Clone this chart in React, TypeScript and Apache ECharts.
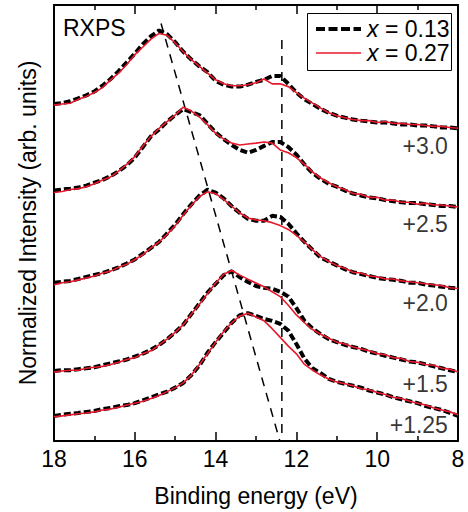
import React, { useEffect, useRef } from "react";
import * as echarts from "echarts";

// Binding energy grid (eV), shared by every spectrum
const energy = [
  18.0, 17.8, 17.6, 17.4, 17.2, 17.0, 16.8, 16.6, 16.4, 16.2,
  16.0, 15.8, 15.6, 15.4, 15.2, 15.0, 14.8, 14.6, 14.4, 14.2,
  14.0, 13.8, 13.6, 13.4, 13.2, 13.0, 12.8, 12.6, 12.4, 12.2,
  12.0, 11.8, 11.6, 11.4, 11.2, 11.0, 10.8, 10.6, 10.4, 10.2,
  10.0, 9.8, 9.6, 9.4, 9.2, 9.0, 8.8, 8.6, 8.4, 8.2, 8.0,
];

// Vertical offsets applied to each pair of spectra (top to bottom)
const offsets = [3.0, 2.5, 2.0, 1.5, 1.25];
const offsetLabels = ["+3.0", "+2.5", "+2.0", "+1.5", "+1.25"];
const offsetLabelY = [2.889, 2.444, 1.989, 1.528, 1.289];
const offsetLabelE = 8.25;

// x = 0.13 normalized intensities
const x013_30 = [0.132,0.137,0.148,0.165,0.182,0.204,0.237,0.276,0.321,0.371,0.421,0.476,0.521,0.554,0.532,0.487,0.432,0.387,0.348,0.315,0.265,0.243,0.232,0.232,0.243,0.259,0.271,0.293,0.293,0.248,0.198,0.159,0.132,0.104,0.082,0.065,0.054,0.043,0.037,0.032,0.026,0.026,0.021,0.015,0.015,0.009,0.009,0.004,-0.002,-0.002,-0.007];
const x013_25 = [0.136,0.142,0.147,0.153,0.164,0.181,0.197,0.219,0.247,0.281,0.325,0.386,0.447,0.486,0.531,0.569,0.603,0.586,0.569,0.519,0.469,0.431,0.397,0.369,0.353,0.369,0.392,0.414,0.414,0.386,0.342,0.286,0.236,0.203,0.175,0.158,0.136,0.119,0.108,0.097,0.092,0.081,0.075,0.069,0.064,0.064,0.058,0.053,0.047,0.047,0.042];
const x013_20 = [0.107,0.113,0.118,0.129,0.141,0.152,0.163,0.179,0.196,0.218,0.241,0.274,0.307,0.341,0.391,0.441,0.502,0.557,0.607,0.641,0.624,0.591,0.546,0.507,0.474,0.463,0.463,0.491,0.485,0.446,0.391,0.341,0.296,0.252,0.229,0.207,0.185,0.168,0.157,0.146,0.135,0.129,0.124,0.118,0.107,0.107,0.096,0.091,0.085,0.079,0.074];
const x013_15 = [0.101,0.106,0.106,0.112,0.117,0.123,0.134,0.145,0.156,0.167,0.184,0.201,0.223,0.251,0.284,0.323,0.367,0.428,0.489,0.551,0.601,0.651,0.673,0.639,0.612,0.589,0.578,0.573,0.556,0.528,0.462,0.389,0.345,0.312,0.284,0.267,0.251,0.239,0.228,0.212,0.201,0.189,0.178,0.167,0.156,0.151,0.139,0.128,0.117,0.106,0.095];
const x013_125 = [0.094,0.100,0.106,0.111,0.117,0.122,0.133,0.139,0.150,0.156,0.167,0.183,0.200,0.217,0.233,0.256,0.283,0.328,0.383,0.456,0.517,0.572,0.628,0.672,0.683,0.667,0.650,0.639,0.622,0.583,0.506,0.422,0.367,0.339,0.306,0.289,0.278,0.267,0.256,0.239,0.228,0.217,0.200,0.189,0.178,0.167,0.150,0.139,0.128,0.111,0.094];

// x = 0.27 normalized intensities
const x027_30 = [0.126,0.132,0.137,0.159,0.176,0.198,0.226,0.271,0.309,0.359,0.415,0.459,0.504,0.537,0.526,0.482,0.432,0.387,0.348,0.309,0.271,0.248,0.237,0.237,0.243,0.254,0.276,0.248,0.248,0.232,0.198,0.165,0.137,0.109,0.082,0.065,0.054,0.043,0.037,0.037,0.026,0.032,0.021,0.021,0.015,0.015,0.009,0.004,0.004,-0.002,-0.007];
const x027_25 = [0.125,0.131,0.142,0.147,0.158,0.175,0.197,0.214,0.247,0.286,0.331,0.392,0.447,0.492,0.531,0.569,0.614,0.592,0.558,0.514,0.464,0.431,0.408,0.397,0.403,0.408,0.414,0.408,0.369,0.353,0.325,0.286,0.242,0.208,0.181,0.158,0.142,0.119,0.114,0.097,0.097,0.081,0.081,0.069,0.069,0.058,0.064,0.053,0.053,0.047,0.042];
const x027_20 = [0.096,0.107,0.113,0.124,0.135,0.146,0.163,0.174,0.196,0.213,0.241,0.268,0.307,0.341,0.385,0.435,0.496,0.552,0.602,0.629,0.618,0.585,0.546,0.507,0.479,0.468,0.463,0.452,0.435,0.413,0.379,0.341,0.296,0.257,0.229,0.207,0.190,0.168,0.163,0.146,0.141,0.129,0.129,0.118,0.113,0.107,0.102,0.096,0.091,0.079,0.074];
const x027_15 = [0.095,0.101,0.106,0.106,0.117,0.123,0.128,0.139,0.151,0.167,0.178,0.201,0.217,0.251,0.284,0.323,0.367,0.428,0.484,0.545,0.606,0.656,0.678,0.651,0.628,0.606,0.584,0.556,0.528,0.478,0.423,0.378,0.339,0.312,0.289,0.267,0.256,0.239,0.228,0.217,0.201,0.195,0.178,0.173,0.156,0.151,0.139,0.134,0.117,0.112,0.095];
const x027_125 = [0.089,0.094,0.100,0.106,0.111,0.117,0.128,0.133,0.144,0.156,0.167,0.178,0.194,0.211,0.233,0.256,0.283,0.328,0.389,0.450,0.517,0.578,0.628,0.667,0.683,0.661,0.639,0.594,0.544,0.494,0.450,0.389,0.356,0.328,0.306,0.289,0.278,0.267,0.250,0.244,0.228,0.217,0.200,0.194,0.178,0.167,0.156,0.139,0.128,0.117,0.100];

const x013 = [x013_30, x013_25, x013_20, x013_15, x013_125];
const x027 = [x027_30, x027_25, x027_20, x027_15, x027_125];

// Guide lines: dispersing main peak and the fixed shoulder
const peakGuideE = [15.35, 12.41];
const peakGuideY = [3.594, 1.2];
const shoulderGuideE = [12.36, 12.36];
const shoulderGuideY = [3.5, 1.2];

const FONT = "'Liberation Sans', Arial, Helvetica, sans-serif";
const FS = 23;
const RED = "#e8192c";
const BLACK_DASH = { color: "#000", width: 4, type: [7, 3] as number[] };
const RED_LINE = { color: RED, width: 1.6 };

export default function App() {
  const ref = useRef<HTMLDivElement>(null);

  useEffect(() => {
    if (!ref.current) return;
    const chart = echarts.init(ref.current, null, { renderer: "svg" });

    const series: any[] = [];
    offsets.forEach((off, i) => {
      series.push({
        name: "x = 0.13",
        type: "line",
        symbol: "none",
        showSymbol: false,
        z: 2,
        lineStyle: BLACK_DASH,
        data: energy.map((e, j) => [e, x013[i][j] + off]),
      });
      series.push({
        name: "x = 0.27",
        type: "line",
        symbol: "none",
        showSymbol: false,
        z: 3,
        lineStyle: RED_LINE,
        data: energy.map((e, j) => [e, x027[i][j] + off]),
      });
    });

    const guideStyle = { color: "#000", width: 1.5, type: [9, 7] };
    series.push({
      name: "peak",
      type: "line",
      symbol: "none",
      z: 1,
      silent: true,
      lineStyle: guideStyle,
      data: peakGuideE.map((e, j) => [e, peakGuideY[j]]),
    });
    series.push({
      name: "shoulder",
      type: "line",
      symbol: "none",
      z: 1,
      silent: true,
      lineStyle: guideStyle,
      data: shoulderGuideE.map((e, j) => [e, shoulderGuideY[j]]),
    });

    series.push({
      name: "offsets",
      type: "scatter",
      symbolSize: 0,
      silent: true,
      z: 4,
      data: offsetLabelY.map((y) => [offsetLabelE, y]),
      label: {
        show: true,
        position: "left",
        distance: 0,
        formatter: (p: any) => offsetLabels[p.dataIndex],
        fontSize: FS,
        fontFamily: FONT,
        color: "#000",
      },
    });

    const axisLine = { show: true, onZero: false, lineStyle: { color: "#000", width: 2 } };
    const tick = { show: true, inside: true, length: 9, lineStyle: { color: "#000", width: 1.5 } };
    const minor = { show: true, splitNumber: 2, length: 5, lineStyle: { color: "#000", width: 1.5 } };

    const legendText = (value: string, y: number) => ({
      type: "text",
      x: 367,
      y,
      style: {
        text: `{i|x}{t| = ${value}}`,
        verticalAlign: "middle",
        fill: "#000",
        rich: {
          i: { fontStyle: "italic", fontSize: FS, fontFamily: FONT, fill: "#000" },
          t: { fontSize: FS, fontFamily: FONT, fill: "#000" },
        },
      },
    });

    chart.setOption({
      animation: false,
      backgroundColor: "#fff",
      grid: { left: 54, right: 10, top: 5, bottom: 58, containLabel: false },
      xAxis: [
        {
          type: "value",
          min: 8,
          max: 18,
          interval: 2,
          inverse: true,
          position: "bottom",
          axisLine,
          axisTick: tick,
          minorTick: minor,
          axisLabel: { fontSize: FS, fontFamily: FONT, color: "#000", margin: 6 },
          splitLine: { show: false },
          name: "Binding energy (eV)",
          nameLocation: "middle",
          nameGap: 43,
          nameTextStyle: { fontSize: FS, fontFamily: FONT, color: "#000" },
        },
        {
          type: "value",
          min: 8,
          max: 18,
          interval: 2,
          inverse: true,
          position: "top",
          axisLine,
          axisTick: tick,
          minorTick: minor,
          axisLabel: { show: false },
          splitLine: { show: false },
        },
      ],
      yAxis: [
        {
          type: "value",
          min: 1.2,
          max: 3.7,
          position: "left",
          axisLine,
          axisTick: { show: false },
          axisLabel: { show: false },
          splitLine: { show: false },
          name: "Normalized Intensity (arb. units)",
          nameLocation: "middle",
          nameGap: 15,
          nameTextStyle: { fontSize: FS, fontFamily: FONT, color: "#000" },
        },
        {
          type: "value",
          min: 1.2,
          max: 3.7,
          position: "right",
          axisLine,
          axisTick: { show: false },
          axisLabel: { show: false },
          splitLine: { show: false },
        },
      ],
      graphic: [
        {
          type: "text",
          left: 63,
          top: 16,
          style: { text: "RXPS", fontSize: FS, fontFamily: FONT, fill: "#000" },
        },
        {
          type: "group",
          z: 10,
          children: [
            {
              type: "rect",
              shape: { x: 307.5, y: 13.5, width: 144, height: 57 },
              style: { fill: "#fff", stroke: "#000", lineWidth: 1 },
            },
            {
              type: "line",
              shape: { x1: 316, y1: 29, x2: 361, y2: 29 },
              style: { stroke: "#000", lineWidth: 4, lineDash: [9, 3.5] },
            },
            {
              type: "line",
              shape: { x1: 316, y1: 53, x2: 361, y2: 53 },
              style: { stroke: RED, lineWidth: 1.6 },
            },
            legendText("0.13", 29),
            legendText("0.27", 53),
          ],
        },
      ],
      series,
    });

    return () => chart.dispose();
  }, []);

  return (
    <div
      ref={ref}
      style={{ position: "absolute", left: 0, top: 0, width: 468, height: 512 }}
    />
  );
}
